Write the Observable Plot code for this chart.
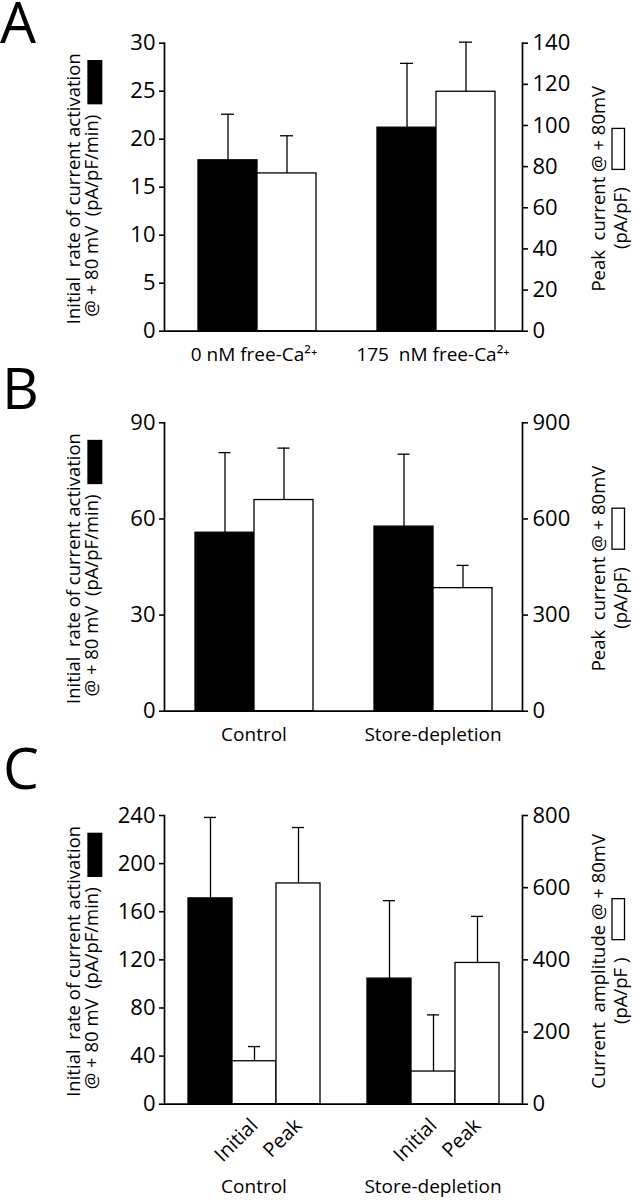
<!DOCTYPE html>
<html>
<head>
<meta charset="utf-8">
<script src="https://cdn.jsdelivr.net/npm/d3@7"></script>
<script src="https://cdn.jsdelivr.net/npm/@observablehq/plot@0.6"></script>
<style>
  body { margin: 0; background: #fff; }
  #fig { width: 634px; }
  #fig svg { display: block; overflow: visible; }
</style>
</head>
<body>
<div id="fig"></div>
<script>
const FONT = "'Open Sans', 'DejaVu Sans', sans-serif";

// ---------- Panel A ----------
const groupsA = ["0 nM free-Ca²⁺", "175  nM free-Ca²⁺"];
const rateA = [17.8, 21.2];          // left axis (pA/pF/min)
const rateErrA = [4.8, 6.7];
const peakA = [76.7, 116.4];         // right axis (pA/pF)
const peakErrA = [18.3, 24.1];
const leftTicksA = [0, 5, 10, 15, 20, 25, 30];
const rightTicksA = [0, 20, 40, 60, 80, 100, 120, 140];

// ---------- Panel B ----------
const groupsB = ["Control", "Store-depletion"];
const rateB = [55.7, 57.6];
const rateErrB = [25.0, 22.6];
const peakB = [659, 384];
const peakErrB = [162, 71];
const leftTicksB = [0, 30, 60, 90];
const rightTicksB = [0, 300, 600, 900];

// ---------- Panel C ----------
const groupsC = ["Control", "Store-depletion"];
const rateC = [171.1, 104.4];
const rateErrC = [67.3, 64.8];
const initialC = [119, 90.5];
const initialErrC = [40.7, 157];
const peakC = [611.7, 391.4];
const peakErrC = [155, 129];
const leftTicksC = [0, 40, 80, 120, 160, 200, 240];
const rightTicksC = [0, 200, 400, 600, 800];
const slotLabelsC = ["Initial", "Peak"];

const leftTitle = ["Initial  rate of current activation", "@ + 80 mV  (pA/pF/min)"];

function makePanel(cfg) {
  const ratio = cfg.leftMax / cfg.rightMax;
  const rows = [];
  cfg.groups.forEach((g, i) => {
    cfg.series.forEach(s => {
      const k = s.axis === "right" ? ratio : 1;
      rows.push({
        group: g, slot: s.slot, fill: s.fill,
        value: s.values[i] * k,
        upper: (s.values[i] + s.errors[i]) * k
      });
    });
  });
  const marks = [
    Plot.barY(rows, {fx: "group", x: "slot", y: "value", fill: "fill", stroke: "black", strokeWidth: 1.3}),
    Plot.ruleX(rows, {fx: "group", x: "slot", y1: "value", y2: "upper", stroke: "black", strokeWidth: 1.3}),
    Plot.tickY(rows, {fx: "group", x: "slot", y: "upper", stroke: "black", strokeWidth: 1.3,
                      insetLeft: cfg.capInset, insetRight: cfg.capInset}),
    Plot.ruleY([0], {stroke: "black", strokeWidth: 1.7}),
    Plot.frame({anchor: "left", facetAnchor: "left", stroke: "black", strokeWidth: 1.7}),
    Plot.frame({anchor: "right", facetAnchor: "right", stroke: "black", strokeWidth: 1.7}),
    Plot.axisY(cfg.leftTicks, {anchor: "left", label: null, tickSize: 5, tickPadding: 4,
                               fontSize: 22, strokeWidth: 1.6}),
    Plot.axisY(cfg.rightTicks.map(v => v * ratio), {anchor: "right", label: null, tickSize: 5, tickPadding: 5,
                               fontSize: 22, strokeWidth: 1.6, tickFormat: d => String(Math.round(d / ratio))}),
    Plot.axisFx({anchor: "bottom", label: null, tickSize: 0, tickPadding: cfg.groupPad, fontSize: 19})
  ];
  if (cfg.slotLabels) {
    marks.push(Plot.axisX(cfg.slotLabels, {anchor: "bottom", label: null, tickSize: 0, tickPadding: cfg.slotPad,
                                           tickRotate: -45, fontSize: 20}));
  }
  const svg = Plot.plot({
    width: 634,
    height: cfg.height,
    marginLeft: 163,
    marginRight: 111.5,
    marginTop: cfg.marginTop,
    marginBottom: cfg.marginBottom,
    style: {fontFamily: FONT, fontSize: "21px", color: "black", background: "white", overflow: "visible"},
    fx: {domain: cfg.groups, padding: 0},
    x: {domain: cfg.series.map(s => s.slot), paddingInner: 0, paddingOuter: cfg.po, align: cfg.align,
        axis: cfg.slotLabels ? undefined : null},
    y: {domain: [0, cfg.leftMax]},
    color: {type: "identity"},
    marks
  });
  document.getElementById("fig").appendChild(svg);
  const s = d3.select(svg);
  // panel letter
  s.append("text").attr("x", cfg.letterX).attr("y", cfg.letterY)
    .attr("text-anchor", "start")
    .attr("font-family", FONT).attr("font-size", 57).attr("fill", "black").text(cfg.letter);
  const cy = cfg.marginTop + (cfg.height - cfg.marginTop - cfg.marginBottom) / 2 + 2;
  addTitle(s, {x1: 80, x2: 98, cy, lines: leftTitle, fill: "black", swLen: 43, gap: 11, swY0: -10, swY1: 3.7});
  addTitle(s, {x1: 605, x2: 627, cy, lines: cfg.rightTitle, fill: "white", swLen: 41, gap: 18, swY0: -15, swY1: -2.5});
  return svg;
}

function addTitle(s, o) {
  const g = s.append("g")
    .attr("font-family", FONT).attr("font-size", 18.5).attr("fill", "black")
    .style("white-space", "pre");
  g.append("text")
    .attr("transform", `translate(${o.x1},${o.cy}) rotate(-90)`)
    .attr("text-anchor", "middle").text(o.lines[0]);
  const g2 = g.append("g").attr("transform", `translate(${o.x2},${o.cy}) rotate(-90)`);
  const t2 = g2.append("text").attr("text-anchor", "start").text(o.lines[1]);
  const w = t2.node().getComputedTextLength();
  const total = w + o.gap + o.swLen;
  t2.attr("x", -total / 2);
  g2.append("rect")
    .attr("x", -total / 2 + w + o.gap).attr("y", o.swY0)
    .attr("width", o.swLen).attr("height", o.swY1 - o.swY0)
    .attr("fill", o.fill).attr("stroke", "black").attr("stroke-width", 1.3);
}

makePanel({
  letter: "A", letterX: 0, letterY: 43,
  height: 366, marginTop: 42.7, marginBottom: 35.3,
  groups: groupsA, leftMax: 30, rightMax: 140,
  leftTicks: leftTicksA, rightTicks: rightTicksA,
  series: [
    {slot: "rate", values: rateA, errors: rateErrA, axis: "left", fill: "black"},
    {slot: "peak", values: peakA, errors: peakErrA, axis: "right", fill: "white"}
  ],
  po: 0.513, align: 0.55, capInset: 23, groupPad: 16,
  rightTitle: ["Peak  current @ + 80mV", "(pA/pF)"]
});

makePanel({
  letter: "B", letterX: 2, letterY: 43,
  height: 380, marginTop: 56.3, marginBottom: 35.3,
  groups: groupsB, leftMax: 90, rightMax: 900,
  leftTicks: leftTicksB, rightTicks: rightTicksB,
  series: [
    {slot: "rate", values: rateB, errors: rateErrB, axis: "left", fill: "black"},
    {slot: "peak", values: peakB, errors: peakErrB, axis: "right", fill: "white"}
  ],
  po: 0.5, align: 0.5, capInset: 23.5, groupPad: 16,
  rightTitle: ["Peak  current @ + 80mV", "(pA/pF)"]
});

makePanel({
  letter: "C", letterX: 3, letterY: 42.5,
  height: 454, marginTop: 69, marginBottom: 96.3,
  groups: groupsC, leftMax: 240, rightMax: 800,
  leftTicks: leftTicksC, rightTicks: rightTicksC,
  series: [
    {slot: "rate", values: rateC, errors: rateErrC, axis: "left", fill: "black"},
    {slot: "Initial", values: initialC, errors: initialErrC, axis: "right", fill: "white"},
    {slot: "Peak", values: peakC, errors: peakErrC, axis: "right", fill: "white"}
  ],
  slotLabels: slotLabelsC, slotPad: 18,
  po: 0.494, align: 0.5, capInset: 16, groupPad: 75,
  rightTitle: ["Current  amplitude @ + 80mV", "(pA/pF )"]
});
</script>
</body>
</html>
